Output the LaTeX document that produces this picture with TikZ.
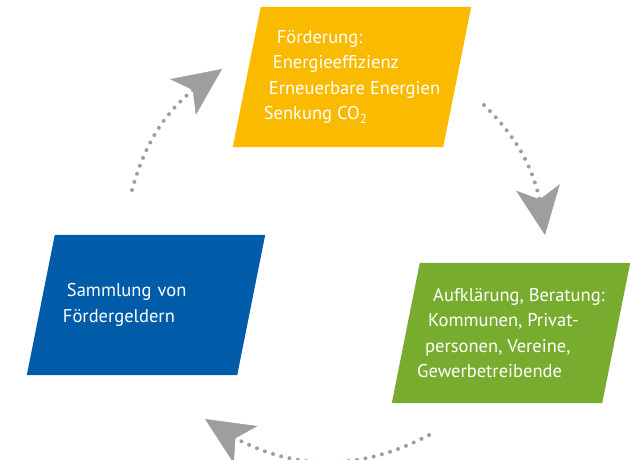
\documentclass[tikz,border=0pt]{standalone}
\usepackage{fontspec}
\setmainfont{PT Sans}
\usetikzlibrary{arrows.meta, bending, backgrounds}
\definecolor{gelb}{RGB}{250,186,0}
\definecolor{gruen}{RGB}{120,172,46}
\definecolor{blau}{RGB}{0,92,168}
\definecolor{pfeilgrau}{RGB}{158,158,158}

\begin{document}
\begin{tikzpicture}[x=1pt, y=-1pt,
    feld/.style={rectangle, minimum width=210pt, minimum height=140pt,
      inner sep=0pt, text=white, align=left, font=\fontsize{18.5}{25.5}\selectfont},
    kreislauf/.style={pfeilgrau, line width=4pt, line cap=round, dash pattern=on 0pt off 8.5pt,
      -{Stealth[length=48pt, width=44pt, inset=12pt, line width=0.5pt]}}]
  \useasboundingbox (0,0) rectangle (633,460);

  % die drei Felder
  \node[feld] (foerderung) at (352,77)
    {\hspace*{13pt}Förderung:\\\hspace*{9pt}Energieeffizienz\\\hspace*{5pt}Erneuerbare Energien\\Senkung CO\textsubscript{2}};
  \node[feld] (aufklaerung) at (511,333)
    {\hspace*{16pt}Aufklärung, Beratung:\\\hspace*{11pt}Kommunen, Privat-\\\hspace*{8pt}personen, Vereine,\\Gewerbetreibende};
  \node[feld, text width=166pt] (sammlung) at (146,305)
    {\hspace*{4pt}Sammlung von\\Fördergeldern};

  % schraege Flaechen dahinter
  \begin{scope}[on background layer]
    \foreach \n/\c in {foerderung/gelb, aufklaerung/gruen, sammlung/blau}
      \fill[\c] ([xshift=-14pt]\n.south west) -- ([xshift=-14pt]\n.south east)
        -- ([xshift=14pt]\n.north east) -- ([xshift=14pt]\n.north west) -- cycle;
  \end{scope}

  % Kreislauf
  \coordinate (s1) at (132,190); \coordinate (t1) at (222,69);
  \coordinate (s2) at (484,105); \coordinate (t2) at (545,235);
  \coordinate (s3) at (429,435); \coordinate (t3) at (205,419);
  \draw[kreislauf] (s1) to[bend left=21] (t1);
  \draw[kreislauf] (s2) to[bend left=20] (t2);
  \draw[kreislauf] (s3) to[bend left=32] (t3);
\end{tikzpicture}
\end{document}
